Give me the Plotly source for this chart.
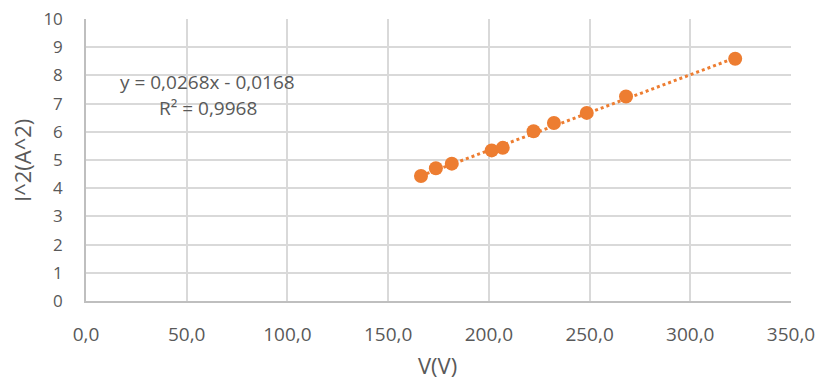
import numpy as np
import plotly.graph_objects as go

# Data
voltage = [166.3, 173.7, 181.6, 201.4, 206.9, 222.2, 232.3, 248.6, 268.1, 322.3]
current_sq = [4.43, 4.71, 4.87, 5.34, 5.43, 6.02, 6.31, 6.67, 7.25, 8.59]
slope = 0.0268
intercept = -0.0168
r_squared = 0.9968
x_ticks = [0, 50, 100, 150, 200, 250, 300, 350]
y_ticks = list(range(0, 11))

orange = "#ED7D31"
grey_text = "#595959"
font_family = "Open Sans, Noto Sans, sans-serif"

x_fit = np.array([min(voltage), max(voltage)])
y_fit = slope * x_fit + intercept

fig = go.Figure()
fig.add_trace(go.Scatter(
    x=x_fit, y=y_fit, mode="lines",
    line=dict(color=orange, width=3, dash="dot"),
    hoverinfo="skip", showlegend=False,
))
fig.add_trace(go.Scatter(
    x=voltage, y=current_sq, mode="markers",
    marker=dict(color=orange, size=14, line=dict(width=0)),
    showlegend=False,
))

eq_text = "y = 0,0268x - 0,0168"
r2_text = "R² = 0,9968"
fig.add_annotation(x=0.173, y=0.777, xref="paper", yref="paper", text=eq_text,
                   showarrow=False, xanchor="center", yanchor="middle",
                   font=dict(family=font_family, size=19, color=grey_text))
fig.add_annotation(x=0.173, y=0.684, xref="paper", yref="paper", text=r2_text,
                   showarrow=False, xanchor="center", yanchor="middle",
                   font=dict(family=font_family, size=19, color=grey_text))

# axis titles
fig.add_annotation(x=0.498, y=-0.228, xref="paper", yref="paper", text="V(V)",
                   showarrow=False, xanchor="center", yanchor="middle",
                   font=dict(family=font_family, size=22, color=grey_text))
fig.add_annotation(x=-0.0908, y=0.5, xref="paper", yref="paper", text="I^2(A^2)",
                   showarrow=False, xanchor="center", yanchor="middle", textangle=-90,
                   font=dict(family=font_family, size=22, color=grey_text))

fig.update_layout(
    width=816, height=372,
    margin=dict(l=78, r=33, t=11, b=79),
    paper_bgcolor="white", plot_bgcolor="white",
    separators=",.",
    font=dict(family=font_family, color=grey_text),
    xaxis=dict(
        range=[0, 350], tickvals=x_ticks, tickformat=".1f", automargin=False,
        showgrid=True, gridcolor="#D9D9D9", gridwidth=1.5,
        zeroline=False, showline=True, linecolor="#BFBFBF", linewidth=1.5,
        ticks="outside", ticklen=15, tickcolor="rgba(0,0,0,0)",
        tickfont=dict(size=19, color=grey_text), ticklabeloverflow="allow",
    ),
    yaxis=dict(
        range=[0, 10], tickvals=y_ticks, automargin=False,
        showgrid=True, gridcolor="#D9D9D9", gridwidth=1.5,
        zeroline=False, showline=True, linecolor="#BFBFBF", linewidth=1.5,
        ticks="outside", ticklen=18, tickcolor="rgba(0,0,0,0)",
        tickfont=dict(size=17, color=grey_text), ticklabeloverflow="allow",
    ),
)

fig.write_html("out.html")
